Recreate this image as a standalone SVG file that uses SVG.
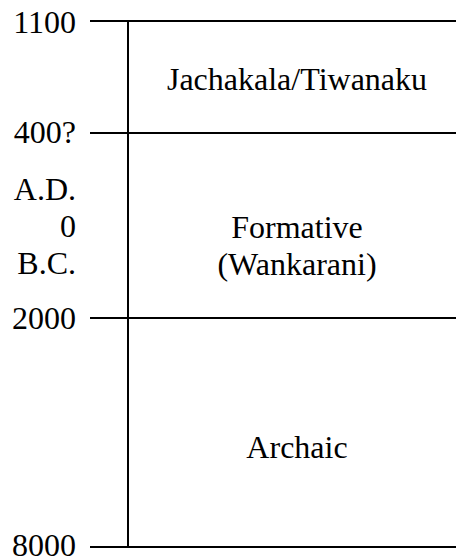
<svg xmlns="http://www.w3.org/2000/svg" width="456" height="560" viewBox="0 0 456 560">
<style>
text{font-family:"Liberation Serif","Times New Roman",serif;font-size:32px;fill:#000}
.l{text-anchor:end}
.c{text-anchor:middle}
line{stroke:#000;stroke-width:2}
</style>
<rect width="456" height="560" fill="#fff"/>
<g id="connectors">
<line x1="90" y1="21" x2="456" y2="21"/>
<line x1="90" y1="133" x2="456" y2="133"/>
<line x1="90" y1="318" x2="456" y2="318"/>
<line x1="90" y1="547" x2="456" y2="547"/>
<line x1="128" y1="21" x2="128" y2="547"/>
</g>
<g id="axis-labels">
<text class="l" x="76" y="33">1100</text>
<text class="l" x="76" y="143">400?</text>
<text class="l" x="76" y="200">A.D.</text>
<text class="l" x="76" y="237">0</text>
<text class="l" x="76" y="274">B.C.</text>
<text class="l" x="76" y="329">2000</text>
<text class="l" x="76" y="556">8000</text>
</g>
<g id="jachakala"><text class="c" x="297" y="90">Jachakala/Tiwanaku</text></g>
<g id="formative"><text class="c" x="297" y="238">Formative</text><text class="c" x="297" y="275">(Wankarani)</text></g>
<g id="archaic"><text class="c" x="297" y="458">Archaic</text></g>
</svg>
